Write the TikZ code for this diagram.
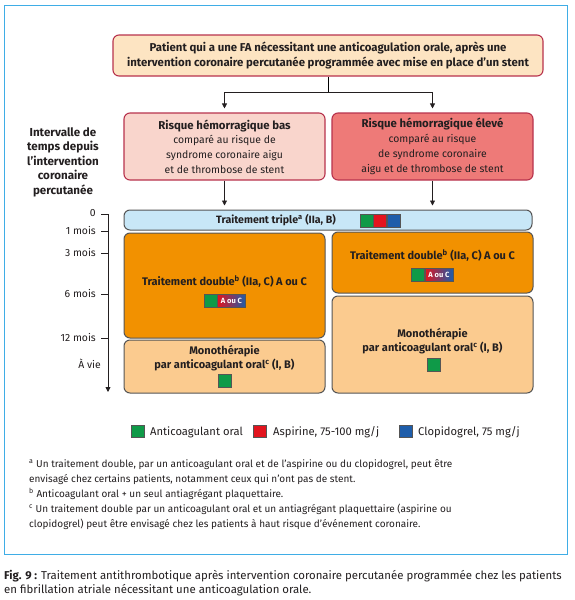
\documentclass[tikz,border=0pt]{standalone}
\usepackage{fontspec}
\setmainfont{Fira Sans}
\usetikzlibrary{arrows.meta,calc}
\definecolor{framebl}{HTML}{3FADE6}
\definecolor{crim}{HTML}{B8334D}
\definecolor{peach}{HTML}{FDE4C2}
\definecolor{pinkl}{HTML}{F9D5CC}
\definecolor{salmon}{HTML}{EE7A78}
\definecolor{lblue}{HTML}{C8E7F7}
\definecolor{orng}{HTML}{F29100}
\definecolor{lorng}{HTML}{FBCB8F}
\definecolor{gbord}{HTML}{555555}
\definecolor{sqgreen}{HTML}{0F9A48}
\definecolor{sqred}{HTML}{E2141E}
\definecolor{sqblue}{HTML}{1E5DAA}
\definecolor{txt}{HTML}{231F20}
\begin{document}
\begin{tikzpicture}[x=1pt,y=-1pt,
  every node/.style={text=txt},
  topbox/.style={draw=crim, fill=peach, line width=1.1pt, rounded corners=6pt, align=center, inner sep=0pt,
    minimum width=430pt, minimum height=41pt, font=\fontsize{11.4}{15}\selectfont\bfseries},
  riskbox/.style={draw=crim, line width=1.1pt, rounded corners=6pt, align=center, inner sep=0pt,
    minimum width=201pt, minimum height=67pt, font=\fontsize{10.4}{14.8}\selectfont},
  risktitle/.style={font=\fontsize{11.4}{14.8}\selectfont\bfseries},
  treatbox/.style={draw=gbord, line width=1pt, rounded corners=6pt, align=center, inner sep=0pt,
    minimum width=201pt},
  boxtext/.style={align=center, inner sep=0pt, font=\fontsize{11}{14.5}\selectfont\bfseries},
  sq/.style={draw=gbord, line width=0.4pt, minimum width=13pt, minimum height=13pt, inner sep=0pt},
  aouc/.style={draw=gbord, line width=0.4pt, minimum width=28pt, minimum height=13pt, inner sep=0pt,
    left color=sqred, right color=sqblue, text=white, font=\fontsize{7.5}{8}\selectfont\bfseries},
  arr/.style={line width=0.8pt, draw=txt, -{Triangle[length=5pt,width=5pt]}},
  tick/.style={line width=0.8pt, draw=txt},
  tlab/.style={anchor=east, inner sep=0pt, font=\fontsize{10.4}{12}\selectfont},
  legtext/.style={anchor=west, inner sep=0pt, font=\fontsize{11.2}{12}\selectfont}
]
\useasboundingbox (0,0) rectangle (574,600);
\fill[white] (0,0) rectangle (574,600);
% frame
\draw[framebl, line width=1.6pt] (4.5,5.5) rectangle (567.5,554.5);

% top box
\node[topbox] (top) at (328,55.5) {Patient qui a une FA nécessitant une anticoagulation orale, après une\\intervention coronaire percutanée programmée avec mise en place d'un stent};

% risk boxes
\node[riskbox, fill=pinkl] (lr) at (224.5,146.5) {{\fontsize{11.4}{14.8}\selectfont\bfseries Risque hémorragique bas}\\comparé au risque de\\syndrome coronaire aigu\\et de thrombose de stent};
\node[riskbox, fill=salmon] (rr) at (432.5,146.5) {{\fontsize{11.4}{14.8}\selectfont\bfseries Risque hémorragique élevé}\\comparé au risque\\de syndrome coronaire\\aigu et de thrombose de stent};

\coordinate (j) at (328,92);
\draw[line width=0.8pt] (top.south) -- (j);
\draw[arr, shorten >=4pt] (j) -| (lr.north);
\draw[arr, shorten >=4pt] (j) -| (rr.north);

% left label
\node[align=center, inner sep=0pt, font=\fontsize{11.6}{14.5}\selectfont\bfseries] (lab) at (63,162) {Intervalle de\\temps depuis\\l'intervention\\coronaire\\percutanée};

% treatment boxes
\node[treatbox, fill=lblue, minimum width=408pt, minimum height=20pt] (tri) at (328,220) {};
\node[boxtext, anchor=center, font=\fontsize{10.6}{14}\selectfont\bfseries] (tritxt) at (276,220.5) {Traitement triple\textsuperscript{a} (IIa, B)};
\node[sq, fill=sqgreen] (t1) at (366.5,221) {};
\node[sq, fill=sqred, anchor=west] (t2) at (t1.east) {};
\node[sq, fill=sqblue, anchor=west] (t3) at (t2.east) {};

\draw[arr, shorten >=4pt] (lr.south) -- (lr.south |- tri.north);
\draw[arr, shorten >=4pt] (rr.south) -- (rr.south |- tri.north);

\node[treatbox, fill=orng, minimum height=105pt] (ld) at (224.5,285.5) {};
\node[boxtext] (ldtxt) at (224.5,282) {Traitement double\textsuperscript{b} (IIa, C) A ou C};
\node[sq, fill=sqgreen] (ldg) at (210.5,300.5) {};
\node[aouc, anchor=west] (ldac) at (ldg.east) {A ou C};

\node[treatbox, fill=lorng, minimum height=53pt] (lm) at (224.5,366.5) {};
\node[boxtext] (lmtxt) at (224.5,358) {Monothérapie\\par anticoagulant oral\textsuperscript{c} (I, B)};
\node[sq, fill=sqgreen] (lmg) at (225,381) {};

\node[treatbox, fill=orng, minimum height=61pt] (rd) at (432.5,262.5) {};
\node[boxtext] (rdtxt) at (432.5,256) {Traitement double\textsuperscript{b} (IIa, C) A ou C};
\node[sq, fill=sqgreen] (rdg) at (418,275) {};
\node[aouc, anchor=west] (rdac) at (rdg.east) {A ou C};

\node[treatbox, fill=lorng, minimum height=97pt] (rm) at (432.5,344.5) {};
\node[boxtext] (rmtxt) at (432.5,341) {Monothérapie\\par anticoagulant oral\textsuperscript{c} (I, B)};
\node[sq, fill=sqgreen] (rmg) at (434,364.5) {};

% timeline
\coordinate (tl0) at (108,214);
\coordinate (tlend) at (108,392);
\draw[tick] (101,214) -- (tl0);
\draw[arr] (tl0) -- (tlend);
\foreach \yy in {231,253,294,338}{
  \draw[tick] (101,\yy) -- (108,\yy);
}
\node[tlab] (l0) at (96,213) {0};
\node[tlab] (l1) at (96,231) {1 mois};
\node[tlab] (l3) at (96,253) {3 mois};
\node[tlab] (l6) at (96,294) {6 mois};
\node[tlab] (l12) at (96,338) {12 mois};
\node[tlab] (lv) at (101,364) {À vie};

% legend
\node[sq, fill=sqgreen, minimum height=12pt] (lg1) at (137.5,431.5) {};
\node[legtext] (lgt1) at (150,432) {Anticoagulant oral};
\node[sq, fill=sqred, minimum height=12pt] (lg2) at (259.5,431.5) {};
\node[legtext] (lgt2) at (273,432) {Aspirine, 75-100 mg/j};
\node[sq, fill=sqblue, minimum height=12pt] (lg3) at (405.5,431.5) {};
\node[legtext] (lgt3) at (418,432) {Clopidogrel, 75 mg/j};

% footnotes
\node[anchor=north west, align=left, inner sep=0pt, font=\fontsize{10}{15}\selectfont] (fn) at (29,459)
{\textsuperscript{a} Un traitement double, par un anticoagulant oral et de l'aspirine ou du clopidogrel, peut être\\
envisagé chez certains patients, notamment ceux qui n'ont pas de stent.\\
\textsuperscript{b} Anticoagulant oral + un seul antiagrégant plaquettaire.\\
\textsuperscript{c} Un traitement double par un anticoagulant oral et un antiagrégant plaquettaire (aspirine ou\\
clopidogrel) peut être envisagé chez les patients à haut risque d'événement coronaire.};

% caption
\node[anchor=north west, align=left, inner sep=0pt, font=\fontsize{11.4}{14}\selectfont] (cap) at (4,570)
{\textbf{Fig. 9 :} Traitement antithrombotique après intervention coronaire percutanée programmée chez les patients\\
en fibrillation atriale nécessitant une anticoagulation orale.};
\end{tikzpicture}
\end{document}
